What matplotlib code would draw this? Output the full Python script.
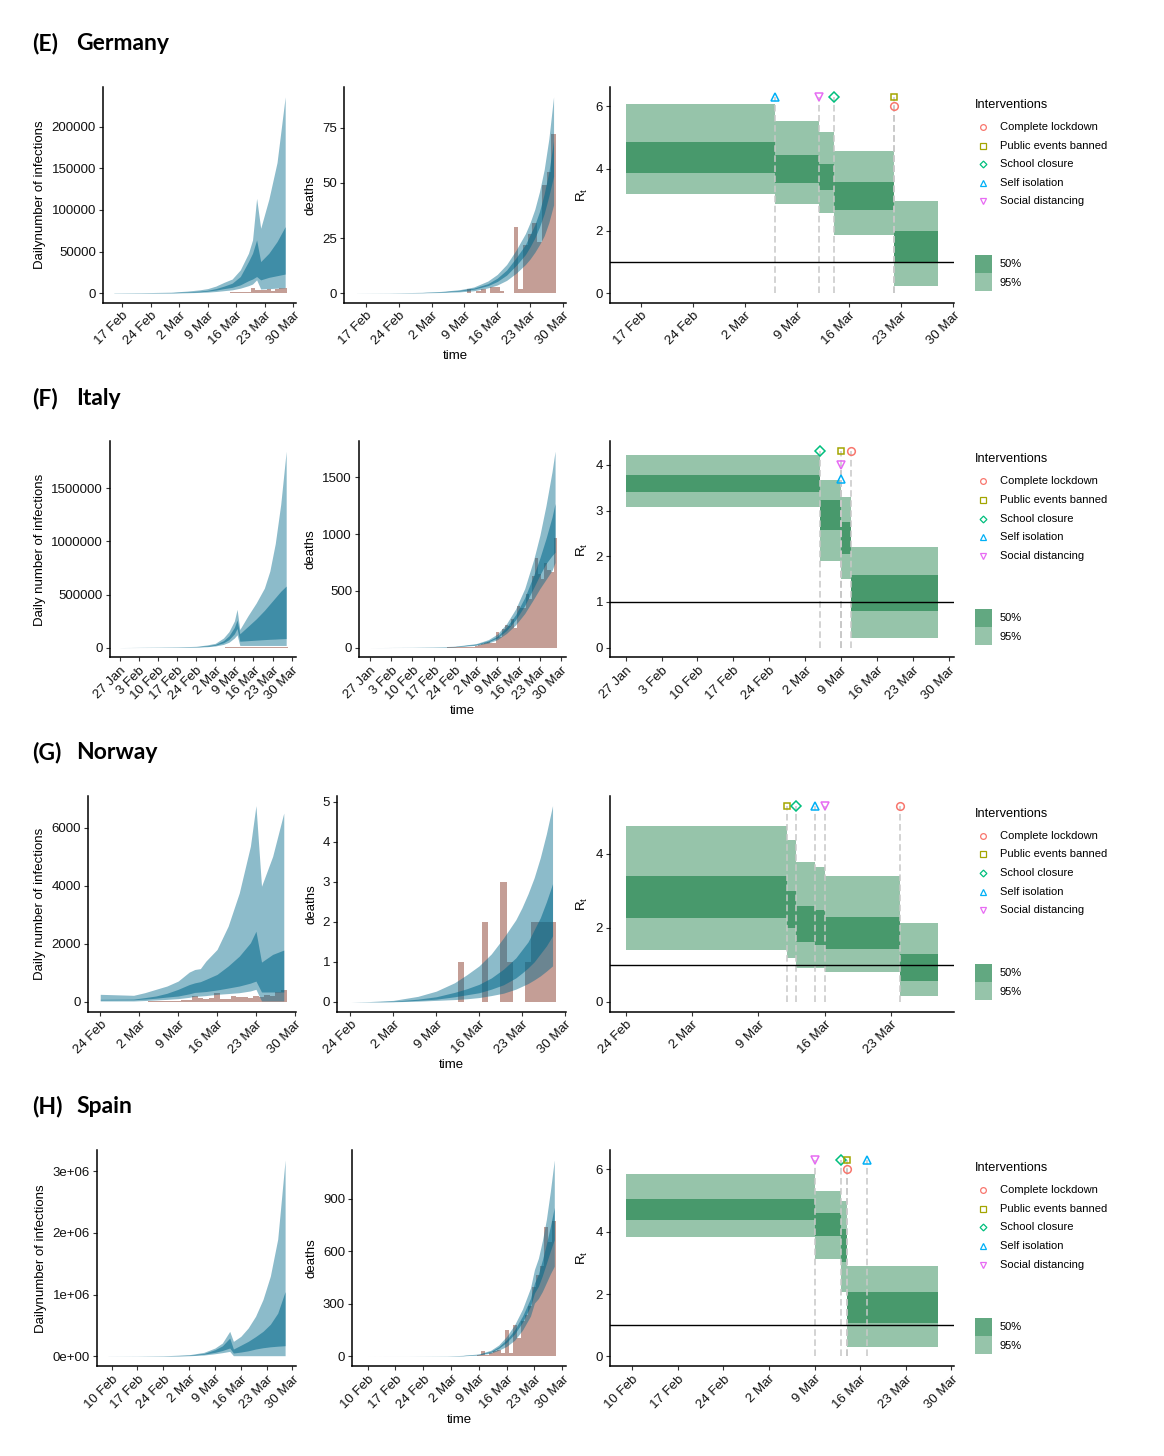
#%%
# imports
import numpy as np
import pandas as pd
import matplotlib
matplotlib.use("Agg")
import matplotlib.pyplot as plt
import matplotlib.dates as mdates
from matplotlib.patches import Rectangle

plt.rcParams["font.family"] = ["Liberation Sans", "DejaVu Sans"]
plt.rcParams["mathtext.default"] = "regular"

# %%
# data (values at selected dates; bars are daily from a start date)

# ---- Germany ----
de_inf_days = ["2020-02-15", "2020-02-22", "2020-02-29", "2020-03-04", "2020-03-07", "2020-03-09",
               "2020-03-11", "2020-03-13", "2020-03-15", "2020-03-17", "2020-03-19", "2020-03-20",
               "2020-03-21", "2020-03-22", "2020-03-24", "2020-03-26", "2020-03-28"]
de_inf_hi95 = [300, 600, 1200, 2500, 4000, 5500, 8500, 13000, 17000, 28000, 48000, 64000, 114000, 78000, 113000, 157000, 236000]
de_inf_hi50 = [150, 300, 700, 1500, 2500, 3500, 5500, 8500, 12000, 20000, 38000, 48000, 64000, 38000, 48000, 62000, 80000]
de_inf_lo50 = [80, 180, 450, 1000, 1700, 2400, 3700, 5500, 7000, 10000, 15000, 17000, 20000, 16000, 19000, 21000, 23000]
de_inf_lo95 = [30, 80, 200, 500, 900, 1300, 2000, 3000, 4000, 6000, 9000, 11000, 16000, 5000, 5500, 6000, 6500]
de_cases_start = "2020-03-01"
de_cases = [0, 117, 0, 37, 109, 185, 151, 129, 208, 157, 271, 802, 693, 733, 1043, 1174, 1144, 1042,
            1000, 5940, 4049, 3276, 3311, 4438, 2342, 4954, 5780, 6294]
de_dth_days = ["2020-02-15", "2020-02-22", "2020-02-29", "2020-03-04", "2020-03-08", "2020-03-11",
               "2020-03-14", "2020-03-16", "2020-03-18", "2020-03-20", "2020-03-22", "2020-03-23",
               "2020-03-24", "2020-03-25", "2020-03-26", "2020-03-27", "2020-03-28"]
de_dth_hi95 = [0.01, 0.1, 0.4, 0.8, 1.6, 2.8, 5.5, 8.5, 13, 19.5, 27, 32, 38, 46, 56, 70, 89]
de_dth_hi50 = [0.01, 0.08, 0.3, 0.6, 1.3, 2.3, 4.3, 6.8, 10.5, 16, 22, 26.5, 31, 37, 45, 55, 69]
de_dth_lo50 = [0.0, 0.06, 0.25, 0.5, 1.0, 1.8, 3.4, 5.3, 8.2, 12.5, 17.5, 21, 25, 30, 36, 44, 53]
de_dth_lo95 = [0.0, 0.04, 0.15, 0.3, 0.6, 1.1, 2.4, 3.7, 5.8, 9, 13, 15.5, 18.5, 22, 26, 32, 40]
de_deaths_start = "2020-03-09"
de_deaths = [0, 2, 0, 1, 2, 0, 3, 3, 1, 0, 0, 30, 2, 22, 27, 32, 23, 49, 55, 72]
de_rt_breaks = ["2020-02-15", "2020-03-06", "2020-03-12", "2020-03-14", "2020-03-22", "2020-03-28"]
de_rt_lo95 = [3.17, 2.85, 2.56, 1.87, 0.23]
de_rt_hi95 = [6.06, 5.53, 5.17, 4.55, 2.97]
de_rt_lo50 = [3.86, 3.53, 3.30, 2.68, 0.98]
de_rt_hi50 = [4.86, 4.44, 4.16, 3.58, 1.98]
de_npi = ["Self isolation", "Social distancing", "School closure", "Public events banned", "Complete lockdown"]
de_npi_days = ["2020-03-06", "2020-03-12", "2020-03-14", "2020-03-22", "2020-03-22"]
de_npi_y = [6.3, 6.3, 6.3, 6.3, 6.0]

# ---- Italy ----
it_inf_days = ["2020-01-27", "2020-02-10", "2020-02-17", "2020-02-24", "2020-02-28", "2020-03-02",
               "2020-03-05", "2020-03-07", "2020-03-09", "2020-03-10", "2020-03-11", "2020-03-14",
               "2020-03-17", "2020-03-20", "2020-03-22", "2020-03-24", "2020-03-26", "2020-03-28"]
it_inf_hi95 = [500, 3000, 6000, 12000, 25000, 40000, 90000, 150000, 250000, 360000, 170000, 300000,
               420000, 560000, 720000, 980000, 1350000, 1850000]
it_inf_hi50 = [300, 2000, 4000, 8000, 17000, 30000, 65000, 110000, 190000, 260000, 130000, 200000,
               270000, 350000, 410000, 470000, 530000, 580000]
it_inf_lo50 = [200, 1300, 3000, 6000, 12000, 22000, 45000, 75000, 130000, 180000, 60000, 65000,
               70000, 75000, 78000, 80000, 83000, 85000]
it_inf_lo95 = [100, 800, 2000, 4000, 8000, 15000, 30000, 50000, 90000, 120000, 20000, 20000,
               20000, 20000, 20000, 20000, 20000, 20000]
it_cases_start = "2020-02-21"
it_cases = [14, 62, 53, 97, 93, 78, 250, 238, 240, 566, 342, 466, 587, 769, 778, 1247, 1492, 1797, 977,
            2313, 2651, 2547, 3497, 2823, 4000, 3526, 4207, 5322, 5986, 6557, 5560, 4789, 5249, 5210,
            6153, 5959, 5974]
it_dth_days = ["2020-01-27", "2020-02-10", "2020-02-17", "2020-02-24", "2020-03-02", "2020-03-06",
               "2020-03-09", "2020-03-12", "2020-03-15", "2020-03-18", "2020-03-21", "2020-03-23",
               "2020-03-25", "2020-03-27", "2020-03-28"]
it_dth_hi95 = [0.2, 2, 5, 12, 35, 70, 120, 210, 340, 520, 780, 990, 1250, 1550, 1730]
it_dth_hi50 = [0.15, 1.5, 4, 10, 30, 60, 100, 180, 290, 440, 640, 790, 960, 1150, 1270]
it_dth_lo50 = [0.1, 1.2, 3, 8, 25, 50, 85, 150, 245, 370, 530, 640, 740, 810, 840]
it_dth_lo95 = [0.05, 0.8, 2, 6, 20, 40, 70, 125, 200, 300, 430, 520, 600, 680, 750]
it_deaths_start = "2020-02-22"
it_deaths = [1, 1, 4, 3, 2, 5, 4, 8, 5, 18, 27, 28, 41, 49, 36, 36, 133, 97, 168, 196, 189, 250,
             175, 368, 349, 345, 475, 427, 627, 793, 651, 601, 743, 683, 662, 969]
it_rt_breaks = ["2020-01-27", "2020-03-05", "2020-03-09", "2020-03-11", "2020-03-28"]
it_rt_lo95 = [3.08, 1.89, 1.51, 0.22]
it_rt_hi95 = [4.22, 3.66, 3.29, 2.20]
it_rt_lo50 = [3.40, 2.58, 2.05, 0.81]
it_rt_hi50 = [3.78, 3.24, 2.74, 1.60]
it_npi = ["School closure", "Public events banned", "Social distancing", "Self isolation", "Complete lockdown"]
it_npi_days = ["2020-03-05", "2020-03-09", "2020-03-09", "2020-03-09", "2020-03-11"]
it_npi_y = [4.3, 4.3, 4.0, 3.7, 4.3]

# ---- Norway ----
no_inf_days = ["2020-02-24", "2020-03-01", "2020-03-03", "2020-03-05", "2020-03-07", "2020-03-09",
               "2020-03-11", "2020-03-12", "2020-03-13", "2020-03-14", "2020-03-16", "2020-03-18",
               "2020-03-20", "2020-03-22", "2020-03-23", "2020-03-24", "2020-03-26", "2020-03-28"]
no_inf_hi95 = [264, 230, 320, 436, 550, 720, 1030, 1120, 1150, 1410, 1810, 2615, 3760, 5370, 6770, 3990, 5020, 6515]
no_inf_hi50 = [92, 100, 150, 206, 300, 436, 600, 660, 700, 780, 950, 1240, 1580, 2040, 2440, 1375, 1640, 1790]
no_inf_lo50 = [70, 75, 100, 130, 170, 206, 280, 330, 344, 360, 413, 480, 550, 650, 720, 344, 344, 344]
no_inf_lo95 = [35, 35, 50, 70, 90, 115, 160, 200, 206, 220, 264, 290, 320, 380, 436, 35, 35, 35]
no_cases_start = "2020-02-26"
no_cases = [1, 0, 5, 9, 4, 6, 7, 24, 30, 30, 20, 25, 20, 76, 82, 219, 126, 114, 133, 307, 103, 104,
            220, 168, 184, 140, 200, 160, 230, 220, 340, 400]
no_dth_days = ["2020-02-24", "2020-02-27", "2020-03-02", "2020-03-06", "2020-03-09", "2020-03-12",
               "2020-03-14", "2020-03-16", "2020-03-18", "2020-03-20", "2020-03-22", "2020-03-23",
               "2020-03-24", "2020-03-25", "2020-03-26", "2020-03-27", "2020-03-28"]
no_dth_hi95 = [0, 0.01, 0.04, 0.14, 0.27, 0.48, 0.68, 0.9, 1.2, 1.6, 2.05, 2.35, 2.7, 3.1, 3.6, 4.2, 4.9]
no_dth_hi50 = [0, 0.005, 0.02, 0.07, 0.13, 0.24, 0.33, 0.44, 0.6, 0.82, 1.1, 1.3, 1.5, 1.8, 2.1, 2.5, 2.95]
no_dth_lo50 = [0, 0.003, 0.01, 0.04, 0.07, 0.13, 0.18, 0.23, 0.32, 0.43, 0.6, 0.72, 0.85, 1.0, 1.2, 1.4, 1.65]
no_dth_lo95 = [0, 0.001, 0.005, 0.02, 0.04, 0.06, 0.08, 0.11, 0.16, 0.22, 0.32, 0.39, 0.46, 0.55, 0.65, 0.77, 0.9]
no_deaths_start = "2020-03-13"
no_deaths = [1, 0, 0, 0, 2, 0, 0, 3, 1, 0, 0, 1, 2, 2, 2, 2]
no_rt_breaks = ["2020-02-24", "2020-03-12", "2020-03-13", "2020-03-15", "2020-03-16", "2020-03-24", "2020-03-28"]
no_rt_lo95 = [1.39, 1.19, 0.93, 0.91, 0.82, 0.15]
no_rt_hi95 = [4.74, 4.38, 3.79, 3.64, 3.40, 2.14]
no_rt_lo50 = [2.28, 1.99, 1.62, 1.54, 1.43, 0.57]
no_rt_hi50 = [3.40, 3.00, 2.58, 2.47, 2.30, 1.30]
no_npi = ["Public events banned", "School closure", "Self isolation", "Social distancing", "Complete lockdown"]
no_npi_days = ["2020-03-12", "2020-03-13", "2020-03-15", "2020-03-16", "2020-03-24"]
no_npi_y = [5.3, 5.3, 5.3, 5.3, 5.3]

# ---- Spain ----
es_inf_days = ["2020-02-09", "2020-02-17", "2020-02-24", "2020-03-02", "2020-03-06", "2020-03-09",
               "2020-03-11", "2020-03-13", "2020-03-14", "2020-03-16", "2020-03-18", "2020-03-20",
               "2020-03-22", "2020-03-24", "2020-03-26", "2020-03-28"]
es_inf_hi95 = [1000, 3000, 9000, 27000, 65000, 135000, 216000, 405000, 243000, 324000, 460000, 650000,
               920000, 1300000, 1900000, 3180000]
es_inf_hi50 = [600, 2000, 6000, 20000, 48000, 108000, 170000, 297000, 119000, 180000, 243000, 320000,
               405000, 520000, 700000, 1050000]
es_inf_lo50 = [400, 1500, 4500, 15000, 35000, 65000, 95000, 135000, 54000, 70000, 90000, 119000,
               140000, 155000, 165000, 173000]
es_inf_lo95 = [200, 900, 3000, 10000, 22000, 43000, 60000, 81000, 11000, 11000, 11000, 11000,
               11000, 11000, 11000, 11000]
es_cases_start = "2020-03-01"
es_cases = [13, 36, 45, 57, 37, 141, 100, 173, 400, 622, 582, 869, 2086, 1159, 1407, 2144, 1806, 2162,
            4053, 2447, 4964, 3394, 6368, 4749, 9630, 8271, 7933, 7516]
es_dth_days = ["2020-02-09", "2020-02-20", "2020-03-01", "2020-03-05", "2020-03-09", "2020-03-12",
               "2020-03-14", "2020-03-16", "2020-03-18", "2020-03-20", "2020-03-22", "2020-03-23",
               "2020-03-24", "2020-03-25", "2020-03-26", "2020-03-27", "2020-03-28"]
es_dth_hi95 = [0.05, 0.3, 2, 6, 14, 35, 65, 114, 180, 270, 390, 495, 560, 660, 780, 940, 1120]
es_dth_hi50 = [0.04, 0.25, 1.6, 5, 12, 29, 55, 96, 152, 230, 330, 418, 470, 550, 640, 740, 850]
es_dth_lo50 = [0.03, 0.2, 1.3, 4, 10, 24, 46, 80, 128, 195, 285, 361, 400, 460, 530, 600, 666]
es_dth_lo95 = [0.02, 0.15, 1, 3, 8, 18, 35, 57, 92, 150, 230, 304, 330, 370, 420, 470, 514]
es_deaths_start = "2020-03-03"
es_deaths = [1, 0, 1, 2, 3, 5, 8, 28, 7, 19, 30, 35, 20, 152, 20, 181, 105, 200, 235, 290, 394, 462,
             514, 738, 655, 774]
es_rt_breaks = ["2020-02-09", "2020-03-09", "2020-03-13", "2020-03-14", "2020-03-28"]
es_rt_lo95 = [3.82, 3.14, 2.08, 0.29]
es_rt_hi95 = [5.85, 5.31, 4.99, 2.90]
es_rt_lo50 = [4.38, 3.85, 3.04, 1.08]
es_rt_hi50 = [5.06, 4.60, 4.09, 2.08]
es_npi = ["Social distancing", "School closure", "Public events banned", "Complete lockdown", "Self isolation"]
es_npi_days = ["2020-03-09", "2020-03-13", "2020-03-14", "2020-03-14", "2020-03-17"]
es_npi_y = [6.3, 6.3, 6.3, 6.0, 6.3]

# tick labels
de_inf_ticks, de_dth_ticks, de_rt_ticks = [0, 50000, 100000, 150000, 200000], [0, 25, 50, 75], [0, 2, 4, 6]
it_inf_ticks, it_dth_ticks, it_rt_ticks = [0, 500000, 1000000, 1500000], [0, 500, 1000, 1500], [0, 1, 2, 3, 4]
no_inf_ticks, no_dth_ticks, no_rt_ticks = [0, 2000, 4000, 6000], [0, 1, 2, 3, 4, 5], [0, 2, 4]
es_inf_ticks, es_dth_ticks, es_rt_ticks = [0, 1e6, 2e6, 3e6], [0, 300, 600, 900], [0, 2, 4, 6]
es_inf_ticklabels = ["0e+00", "1e+06", "2e+06", "3e+06"]

npi_names = ["Complete lockdown", "Public events banned", "School closure", "Self isolation", "Social distancing"]
npi_colors = ["#F8766D", "#A3A500", "#00BF7D", "#00B0F6", "#E76BF3"]
npi_markers = ["o", "s", "D", "^", "v"]
npi_ms = [5.5, 5.0, 4.6, 6.0, 6.0]

BLUE = "#00688B"
BROWN = "#8B3E2F"
GREEN = "#2E8B57"

countries = [
    dict(tag="(E)", name="Germany", ylab="Dailynumber of infections",
         inf=(de_inf_days, de_inf_lo95, de_inf_hi95, de_inf_lo50, de_inf_hi50), cases=(de_cases_start, de_cases),
         dth=(de_dth_days, de_dth_lo95, de_dth_hi95, de_dth_lo50, de_dth_hi50), deaths=(de_deaths_start, de_deaths),
         rt=(de_rt_breaks, de_rt_lo95, de_rt_hi95, de_rt_lo50, de_rt_hi50), npi=(de_npi, de_npi_days, de_npi_y),
         ticks=(de_inf_ticks, de_dth_ticks, de_rt_ticks), inf_labels=None, lefts=(103, 344)),
    dict(tag="(F)", name="Italy", ylab="Daily number of infections",
         inf=(it_inf_days, it_inf_lo95, it_inf_hi95, it_inf_lo50, it_inf_hi50), cases=(it_cases_start, it_cases),
         dth=(it_dth_days, it_dth_lo95, it_dth_hi95, it_dth_lo50, it_dth_hi50), deaths=(it_deaths_start, it_deaths),
         rt=(it_rt_breaks, it_rt_lo95, it_rt_hi95, it_rt_lo50, it_rt_hi50), npi=(it_npi, it_npi_days, it_npi_y),
         ticks=(it_inf_ticks, it_dth_ticks, it_rt_ticks), inf_labels=None, lefts=(110, 359)),
    dict(tag="(G)", name="Norway", ylab="Daily number of infections",
         inf=(no_inf_days, no_inf_lo95, no_inf_hi95, no_inf_lo50, no_inf_hi50), cases=(no_cases_start, no_cases),
         dth=(no_dth_days, no_dth_lo95, no_dth_hi95, no_dth_lo50, no_dth_hi50), deaths=(no_deaths_start, no_deaths),
         rt=(no_rt_breaks, no_rt_lo95, no_rt_hi95, no_rt_lo50, no_rt_hi50), npi=(no_npi, no_npi_days, no_npi_y),
         ticks=(no_inf_ticks, no_dth_ticks, no_rt_ticks), inf_labels=None, lefts=(88, 337)),
    dict(tag="(H)", name="Spain", ylab="Dailynumber of infections",
         inf=(es_inf_days, es_inf_lo95, es_inf_hi95, es_inf_lo50, es_inf_hi50), cases=(es_cases_start, es_cases),
         dth=(es_dth_days, es_dth_lo95, es_dth_hi95, es_dth_lo50, es_dth_hi50), deaths=(es_deaths_start, es_deaths),
         rt=(es_rt_breaks, es_rt_lo95, es_rt_hi95, es_rt_lo50, es_rt_hi50), npi=(es_npi, es_npi_days, es_npi_y),
         ticks=(es_inf_ticks, es_dth_ticks, es_rt_ticks), inf_labels=es_inf_ticklabels, lefts=(97, 352)),
]

# %%
# helpers
W, H = 1164, 1456
fig = plt.figure(figsize=(W / 100, H / 100), dpi=100)


def to_num(days):
    return mdates.date2num(pd.to_datetime(days))


def daily(start, values):
    return mdates.date2num(pd.date_range(start, periods=len(values), freq="D"))


def px_axes(x0, x1, y0, y1):
    return fig.add_axes([x0 / W, 1 - y1 / H, (x1 - x0) / W, (y1 - y0) / H])


def style(ax, yticks, ylabels=None):
    ax.spines[["top", "right"]].set_visible(False)
    ax.spines[["left", "bottom"]].set_linewidth(1.1)
    ax.tick_params(length=3, width=0.8, color="#333333", labelsize=9.5, labelcolor="#111111", pad=2)
    ax.set_yticks(yticks)
    ax.set_yticklabels(ylabels if ylabels else [f"{int(v)}" if v >= 1 or v == 0 else f"{v:g}" for v in yticks])
    lo, hi = ax.get_xlim()
    d0 = pd.Timestamp(mdates.num2date(lo).replace(tzinfo=None)).ceil("D")
    d1 = pd.Timestamp(mdates.num2date(hi).replace(tzinfo=None))
    mondays = pd.date_range(d0, d1, freq="W-MON")
    ax.set_xticks(mdates.date2num(mondays))
    ax.set_xticklabels([f"{d.day} {d:%b}" for d in mondays], rotation=45, ha="right", rotation_mode="anchor")


def bands(ax, x, lo95, hi95, lo50, hi50):
    ax.fill_between(x, lo95, hi95, color=BLUE, alpha=0.45, lw=0, zorder=2)
    ax.fill_between(x, lo50, hi50, color=BLUE, alpha=0.55, lw=0, zorder=3)


# overlay for titles and legends, in pixel coordinates
lay = fig.add_axes([0, 0, 1, 1])
lay.set_xlim(0, W)
lay.set_ylim(H, 0)
lay.axis("off")

# %%
# draw rows
for i, c in enumerate(countries):
    top, bot = 87 + 354.4 * i, 303 + 354.4 * i
    end = to_num(["2020-03-28"])[0]

    lay.text(32, 44 + 354.2 * i, c["tag"], fontsize=16.5, fontweight="bold", family="Lato", va="center")
    lay.text(76, 44 + 354.2 * i, c["name"], fontsize=16.5, fontweight="bold", family="Lato", va="center")

    # infections
    days, lo95, hi95, lo50, hi50 = c["inf"]
    x = to_num(days)
    start = x[0]
    span = end - start + 1
    m = 0.5 + 0.05 * span
    ax = px_axes(c["lefts"][0], 296, top, bot)
    cs, cv = c["cases"]
    ax.bar(daily(cs, cv), cv, width=1, color=BROWN, alpha=0.5, lw=0, zorder=1)
    bands(ax, x, lo95, hi95, lo50, hi50)
    ymax = max(max(hi95), max(cv))
    ax.set_ylim(-0.05 * ymax, 1.05 * ymax)
    ax.set_xlim(start - m, end + m)
    ax.set_ylabel(c["ylab"], fontsize=9.5, labelpad=4)
    style(ax, c["ticks"][0], c["inf_labels"])

    # deaths
    days, lo95, hi95, lo50, hi50 = c["dth"]
    ax = px_axes(c["lefts"][1], 566, top, bot)
    ds, dv = c["deaths"]
    ax.bar(daily(ds, dv), dv, width=1, color=BROWN, alpha=0.5, lw=0, zorder=1)
    bands(ax, to_num(days), lo95, hi95, lo50, hi50)
    ymax = max(max(hi95), max(dv))
    ax.set_ylim(-0.05 * ymax, 1.05 * ymax)
    ax.set_xlim(start - m, end + m)
    ax.set_ylabel("deaths", fontsize=9.5, labelpad=4)
    ax.set_xlabel("time", fontsize=9.5, labelpad=2)
    style(ax, c["ticks"][1])

    # Rt
    breaks, rlo95, rhi95, rlo50, rhi50 = c["rt"]
    bx = to_num(breaks)
    ax = px_axes(610, 954, top, bot)
    for k in range(len(bx) - 1):
        ax.fill_between([bx[k], bx[k + 1]], rlo95[k], rhi95[k], color=GREEN, alpha=0.5, lw=0, zorder=1)
    for k in range(len(bx) - 1):
        ax.fill_between([bx[k], bx[k + 1]], rlo50[k], rhi50[k], color=GREEN, alpha=0.75, lw=0, zorder=2)
    names, ndays, ny = c["npi"]
    nx = to_num(ndays)
    for nm, xx, yy in zip(names, nx, ny):
        j = npi_names.index(nm)
        ax.plot([xx, xx], [0, yy], color="#C8C8C8", lw=1.1, ls=(0, (4.3, 2.3)), zorder=3)
        ax.plot(xx, yy, marker=npi_markers[j], ms=npi_ms[j], mfc="none", mec=npi_colors[j], mew=1.1,
                ls="none", zorder=5)
    ax.axhline(1, color="black", lw=1.0, zorder=4)
    rspan = bx[-1] - bx[0]
    ax.set_xlim(bx[0] - 0.05 * rspan, bx[-1] + 0.05 * rspan)
    ymax = max(ny)
    ax.set_ylim(-0.05 * ymax, 1.05 * ymax)
    ax.set_ylabel("R$_t$", fontsize=9.5, labelpad=4)
    style(ax, c["ticks"][2])

    # legend
    oy = 354.4 * i
    lay.text(975, 105 + oy, "Interventions", fontsize=9.2, va="center")
    for j, nm in enumerate(npi_names):
        yy = 127 + 18.6 * j + oy
        lay.plot(983, yy, marker=npi_markers[j], ms=npi_ms[j] * 0.75, mfc="none", mec=npi_colors[j], mew=0.9)
        lay.text(1000, yy, nm, fontsize=8, va="center")
    lay.add_patch(Rectangle((975, 255 + oy), 17, 18, color=GREEN, alpha=0.75, lw=0))
    lay.add_patch(Rectangle((975, 273 + oy), 17, 18, color=GREEN, alpha=0.5, lw=0))
    lay.text(1000, 264 + oy, "50%", fontsize=8, va="center")
    lay.text(1000, 283 + oy, "95%", fontsize=8, va="center")

# %%
fig.savefig("out.png", dpi=100)
